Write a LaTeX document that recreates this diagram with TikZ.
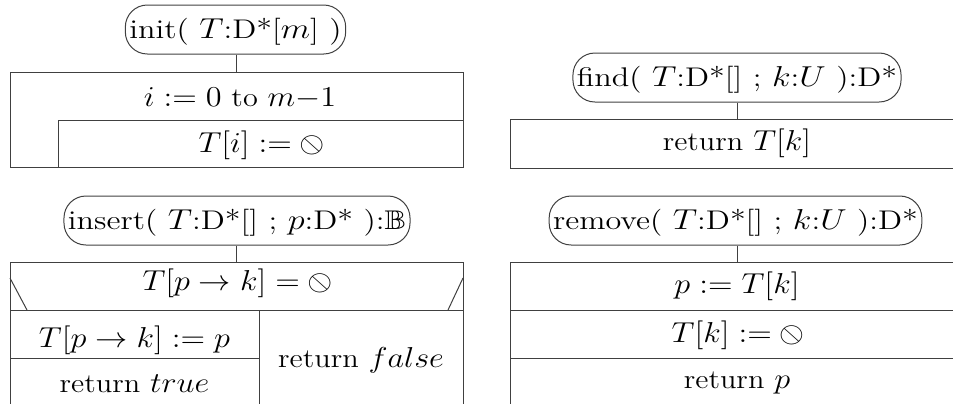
\documentclass[tikz,border=0pt]{standalone}
\usepackage{amsmath}
\usepackage{amssymb}
\usepackage{graphicx}
\usepackage{tikz}
\usetikzlibrary{positioning}
\definecolor{nsline}{HTML}{404040}
\newcommand{\nsnull}{\mathord{\rotatebox[origin=c]{90}{$\oslash$}}}
\newcommand{\nswide}[1]{\scalebox{1.12}[1]{#1}}
\newcommand{\nshwide}[1]{\scalebox{1.19}[1]{#1}}

\tikzset{
  nshead/.style={draw=nsline,line width=0.5pt,rounded corners=11pt,minimum height=24.5pt,
    inner xsep=2pt,inner ysep=0pt,text height=12pt,text depth=3pt,font=\fontsize{13.5}{16}\selectfont},
  nstext/.style={inner sep=0pt,anchor=base,font=\fontsize{13.5}{16}\selectfont},
  nsbox/.style={draw=nsline,line width=0.5pt}
}

\begin{document}
\begin{tikzpicture}[x=0.5pt,y=-0.5pt]
  \useasboundingbox (0,0) rectangle (953,403);
  \clip (0,0) rectangle (953,403);

  % init
  \node[nshead] (init) at (235.5,29.5) {\nshwide{init( $T$:D*[$m$] )}};
  \coordinate (initbox) at (236.5,72);
  \draw[nsbox] (init.south -| initbox) -- (initbox);
  \draw[nsbox] (10,72) rectangle (463,167);
  \draw[nsbox] (58,167) -- (58,120) -- (463,120);
  \node[nstext] (initloop) at (240,106) {\nswide{$i := 0$ to $m{-}1$}};
  \node[nstext] (initset) at (260.5,152) {\nswide{$T[i] := \nsnull$}};

  % find
  \node[nshead] (find) at (737,77.5) {\nshwide{find( $T$:D*[] ; $k$:$U$ ):D*}};
  \coordinate (findbox) at (737,119);
  \draw[nsbox] (find) -- (findbox);
  \draw[nsbox] (510,119) rectangle (964,168);
  \node[nstext] (findret) at (737,150) {\nswide{return $T[k]$}};

  % insert
  \node[nshead] (insert) at (237,220.5) {\nshwide{insert( $T$:D*[] ; $p$:D* ):$\mathbb{B}$}};
  \coordinate (insertbox) at (236.5,262);
  \draw[nsbox] (insert.south -| insertbox) -- (insertbox);
  \draw[nsbox] (10,262) rectangle (463,406);
  \draw[nsbox] (10,310) -- (463,310);
  \draw[nsbox] (10,278) -- (27,310);
  \draw[nsbox] (463,278) -- (448,310);
  \draw[nsbox] (259,310) -- (259,406);
  \draw[nsbox] (10,358) -- (259,358);
  \node[nstext] (inscond) at (236.5,290) {\nswide{$T[p \rightarrow k] = \nsnull$}};
  \node[nstext] (insset) at (134.5,347) {\nswide{$T[p \rightarrow k] := p$}};
  \node[nstext] (insret) at (134.5,392) {\nswide{return $true$}};
  \node[nstext] (insfalse) at (361,367) {\nswide{return $false$}};

  % remove
  \node[nshead] (remove) at (735.5,220.5) {\nshwide{remove( $T$:D*[] ; $k$:$U$ ):D*}};
  \coordinate (removebox) at (737,262);
  \draw[nsbox] (remove.south -| removebox) -- (removebox);
  \draw[nsbox] (510,262) rectangle (964,406);
  \draw[nsbox] (510,310) -- (964,310);
  \draw[nsbox] (510,358) -- (964,358);
  \node[nstext] (remp) at (737,293) {\nswide{$p := T[k]$}};
  \node[nstext] (remnull) at (737,342) {\nswide{$T[k] := \nsnull$}};
  \node[nstext] (remret) at (737,388) {\nswide{return $p$}};
\end{tikzpicture}
\end{document}
